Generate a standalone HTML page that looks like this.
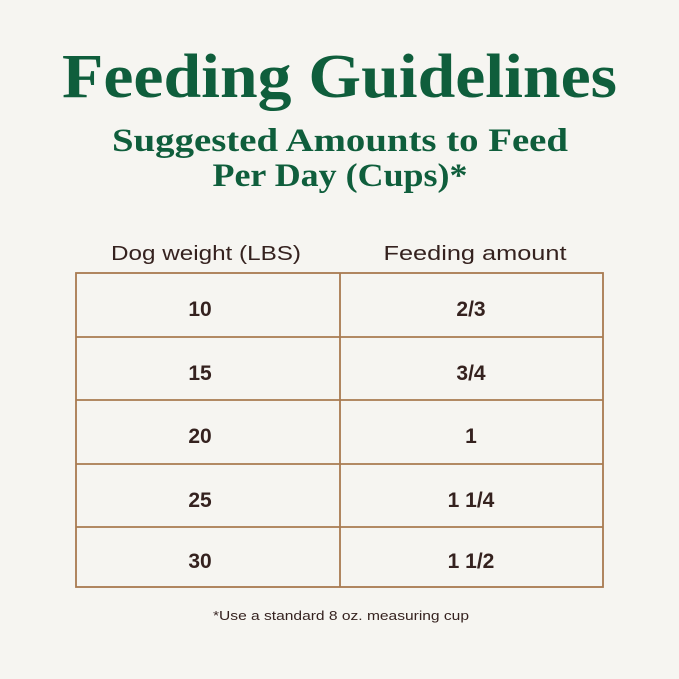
<!DOCTYPE html>
<html><head><style>
html,body{margin:0;padding:0;background:#f6f5f1;}
svg{display:block}
</style></head><body>
<svg width="679" height="679" viewBox="0 0 679 679" xmlns="http://www.w3.org/2000/svg">
<rect width="679" height="679" fill="#f6f5f1"/>
<g font-family="Liberation Serif, serif" font-weight="bold" fill="#0f5e3c" text-anchor="middle">
<text x="339.5" y="97" font-size="62" textLength="555" lengthAdjust="spacingAndGlyphs">Feeding Guidelines</text>
<text x="340" y="151" font-size="33" textLength="456" lengthAdjust="spacingAndGlyphs">Suggested Amounts to Feed</text>
<text x="340" y="186" font-size="33" textLength="255" lengthAdjust="spacingAndGlyphs">Per Day (Cups)*</text>
</g>
<g font-family="Liberation Sans, sans-serif" fill="#35221f" text-anchor="middle" font-size="20">
<text x="206" y="260" textLength="190" lengthAdjust="spacingAndGlyphs">Dog weight (LBS)</text>
<text x="475" y="260" textLength="183" lengthAdjust="spacingAndGlyphs">Feeding amount</text>
</g>
<g stroke="#a87a50" stroke-width="1.8" fill="none">
<rect x="76" y="273" width="527" height="314"/>
<line x1="340" y1="273" x2="340" y2="587"/>
<line x1="76" y1="337" x2="603" y2="337"/>
<line x1="76" y1="400" x2="603" y2="400"/>
<line x1="76" y1="464" x2="603" y2="464"/>
<line x1="76" y1="527" x2="603" y2="527"/>
</g>
<g font-family="Liberation Sans, sans-serif" fill="#35221f" text-anchor="middle" font-size="21" font-weight="bold">
<text x="200" y="316">10</text><text x="471" y="316">2/3</text>
<text x="200" y="380">15</text><text x="471" y="380">3/4</text>
<text x="200" y="443">20</text><text x="471" y="443">1</text>
<text x="200" y="507">25</text><text x="471" y="507">1 1/4</text>
<text x="200" y="568">30</text><text x="471" y="568">1 1/2</text>
</g>
<text x="341" y="620" font-family="Liberation Sans, sans-serif" font-size="13" fill="#35221f" text-anchor="middle" textLength="256" lengthAdjust="spacingAndGlyphs">*Use a standard 8 oz. measuring cup</text>
</svg>
</body></html>
